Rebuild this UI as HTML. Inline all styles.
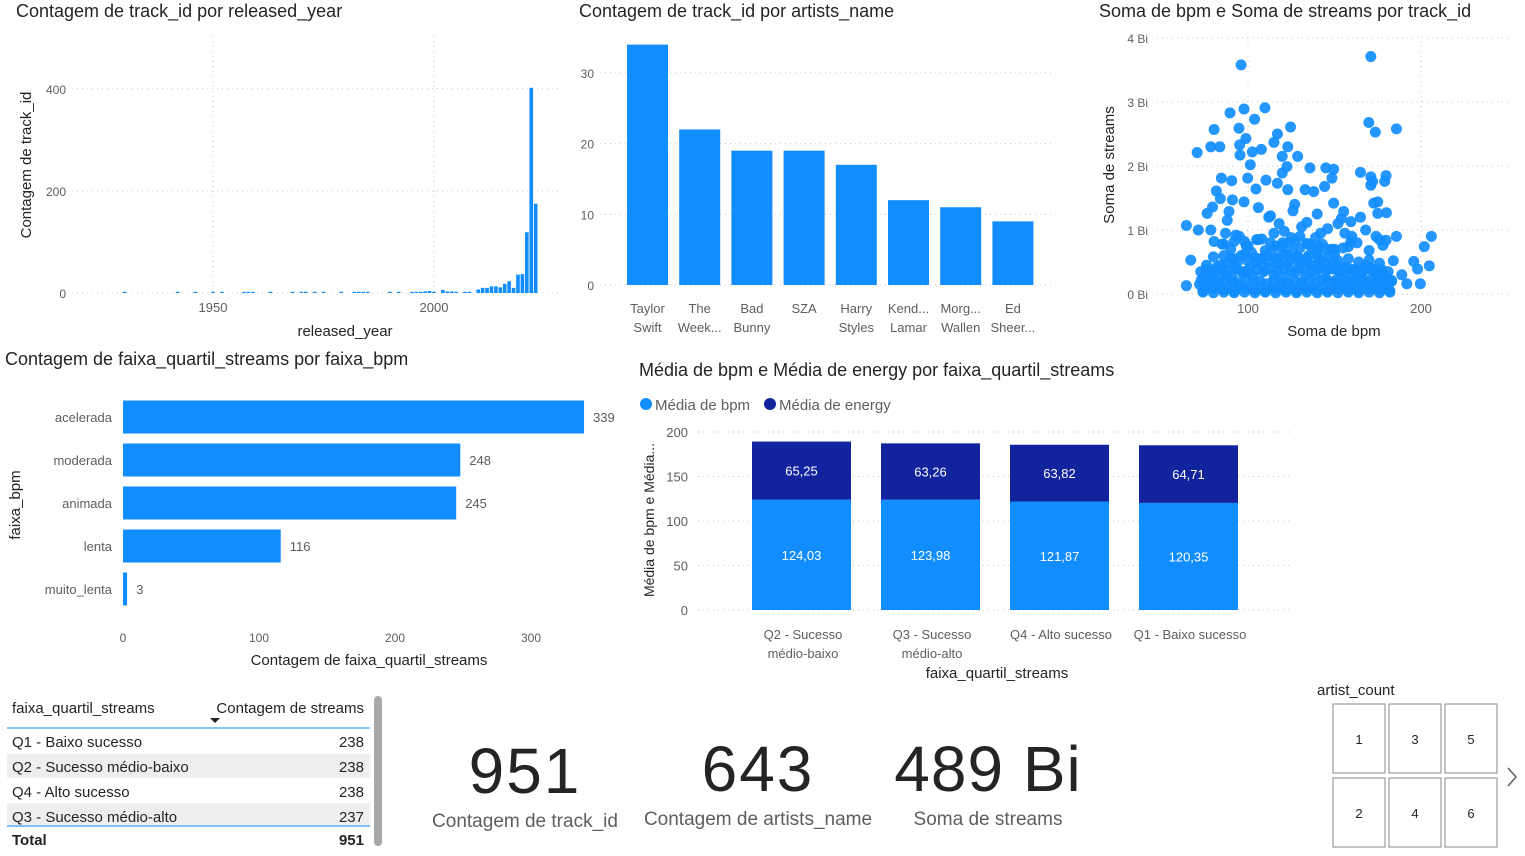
<!DOCTYPE html>
<html><head><meta charset="utf-8"><style>
body{margin:0;background:#fff;font-family:"Liberation Sans",sans-serif;}
svg{display:block}
text{font-family:"Liberation Sans",sans-serif}
</style></head><body>
<svg id="s" width="1525" height="856" viewBox="0 0 1525 856">
<g id="static">
<text x="16" y="17" font-size="18" fill="#252423">Contagem de track_id por released_year</text>
<text x="579" y="17" font-size="18" fill="#252423">Contagem de track_id por artists_name</text>
<text x="1099" y="17" font-size="18" fill="#252423">Soma de bpm e Soma de streams por track_id</text>
<text x="5" y="365" font-size="18" fill="#252423">Contagem de faixa_quartil_streams por faixa_bpm</text>
<text x="639" y="376" font-size="18" fill="#252423">Média de bpm e Média de energy por faixa_quartil_streams</text>
<text x="345" y="336" font-size="15" fill="#252423" text-anchor="middle">released_year</text>
<text transform="translate(31,165) rotate(-90)" font-size="15" fill="#252423" text-anchor="middle">Contagem de track_id</text>
<text x="1334" y="336" font-size="15" fill="#252423" text-anchor="middle">Soma de bpm</text>
<text transform="translate(1114,165) rotate(-90)" font-size="15" fill="#252423" text-anchor="middle">Soma de streams</text>
<text x="369" y="665" font-size="15" fill="#252423" text-anchor="middle">Contagem de faixa_quartil_streams</text>
<text transform="translate(20,505) rotate(-90)" font-size="15" fill="#252423" text-anchor="middle">faixa_bpm</text>
<text x="997" y="678" font-size="15" fill="#252423" text-anchor="middle">faixa_quartil_streams</text>
<text transform="translate(654,520) rotate(-90)" font-size="14" fill="#252423" text-anchor="middle">Média de bpm e Média...</text>
<g>
<circle cx="646" cy="404" r="6" fill="#118DFF"/>
<text x="655" y="410" font-size="15" fill="#605E5C">Média de bpm</text>
<circle cx="770" cy="404" r="6" fill="#12239E"/>
<text x="779" y="410" font-size="15" fill="#605E5C">Média de energy</text>
</g>
<g>
<text x="12" y="713" font-size="15" fill="#252423">faixa_quartil_streams</text>
<text x="364" y="713" font-size="15" fill="#252423" text-anchor="end">Contagem de streams</text>
<path d="M210,718 l10,0 l-5,5z" fill="#252423"/>
<line x1="7" x2="370" y1="728" y2="728" stroke="#118DFF"/>
<rect x="7" y="754" width="363" height="24" fill="#EEEEEE"/>
<rect x="7" y="803" width="363" height="24" fill="#EEEEEE"/>
<text x="12" y="747" font-size="15" fill="#252423">Q1 - Baixo sucesso</text><text x="364" y="747" font-size="15" fill="#252423" text-anchor="end">238</text>
<text x="12" y="772" font-size="15" fill="#252423">Q2 - Sucesso médio-baixo</text><text x="364" y="772" font-size="15" fill="#252423" text-anchor="end">238</text>
<text x="12" y="797" font-size="15" fill="#252423">Q4 - Alto sucesso</text><text x="364" y="797" font-size="15" fill="#252423" text-anchor="end">238</text>
<text x="12" y="822" font-size="15" fill="#252423">Q3 - Sucesso médio-alto</text><text x="364" y="822" font-size="15" fill="#252423" text-anchor="end">237</text>
<line x1="7" x2="370" y1="826" y2="826" stroke="#118DFF"/>
<text x="12" y="845" font-size="15" font-weight="bold" fill="#252423">Total</text>
<text x="364" y="845" font-size="15" font-weight="bold" fill="#252423" text-anchor="end">951</text>
<rect x="374" y="696" width="8" height="150" rx="4" fill="#A8A8A8"/>
</g>
<text x="525" y="793" font-size="64" fill="#252423" text-anchor="middle" letter-spacing="2">951</text>
<text x="525" y="827" font-size="19" fill="#605E5C" text-anchor="middle">Contagem de track_id</text>
<text x="758" y="791" font-size="64" fill="#252423" text-anchor="middle" letter-spacing="2">643</text>
<text x="758" y="825" font-size="19" fill="#605E5C" text-anchor="middle">Contagem de artists_name</text>
<text x="988" y="791" font-size="64" fill="#252423" text-anchor="middle" letter-spacing="1">489 Bi</text>
<text x="988" y="825" font-size="19" fill="#605E5C" text-anchor="middle">Soma de streams</text>
<text x="1317" y="695" font-size="15" fill="#252423">artist_count</text>
<g font-size="13" fill="#252423" text-anchor="middle">
<rect x="1333" y="704" width="52" height="69" fill="#fff" stroke="#888"/><text x="1359" y="744">1</text>
<rect x="1389" y="704" width="52" height="69" fill="#fff" stroke="#888"/><text x="1415" y="744">3</text>
<rect x="1445" y="704" width="52" height="69" fill="#fff" stroke="#888"/><text x="1471" y="744">5</text>
<rect x="1333" y="778" width="52" height="69" fill="#fff" stroke="#888"/><text x="1359" y="818">2</text>
<rect x="1389" y="778" width="52" height="69" fill="#fff" stroke="#888"/><text x="1415" y="818">4</text>
<rect x="1445" y="778" width="52" height="69" fill="#fff" stroke="#888"/><text x="1471" y="818">6</text>
</g>
<path d="M1508,768 l8,9 l-8,9" fill="none" stroke="#605E5C" stroke-width="1.5"/>
</g>
<g id="year"></g><g id="artist"></g><g id="scatter"></g><g id="hbar"></g><g id="stack"></g>
</svg>
<script>
const years=[1930,1942,1946,1950,1952,1957,1958,1959,1963,1968,1970,1971,1973,1975,1979,1982,1983,1984,1985,1990,1992,1995,1996,1997,1998,1999,2000,2002,2003,2004,2005,2007,2008,2010,2011,2012,2013,2014,2015,2016,2017,2018,2019,2020,2021,2022,2023];
const yearCounts=[1,1,1,1,1,1,2,2,1,1,1,1,1,1,1,1,2,2,2,1,1,2,2,2,3,4,2,6,3,3,2,2,2,7,10,10,13,13,11,18,23,10,36,37,119,402,175];
const yearTicksX=[1950,2000];
const yearTicksY=[0,200,400];
const artists=[["Taylor","Swift"],["The","Week..."],["Bad","Bunny"],["SZA"],["Harry","Styles"],["Kend...","Lamar"],["Morg...","Wallen"],["Ed","Sheer..."]];
const artistCounts=[34,22,19,19,17,12,11,9];
const artistTicks=[0,10,20,30];
const scBpm=[96,171,70.6,80.4,78.5,83.7,89.6,94.8,97.7,103.8,109.8,124.6,117,115,123,128.7,119.8,107.7,102.5,98.8,95.2,95.4,101.3,135.8,145,149.5,165,169.8,173.6,185.8,171,179.8,179,172,171,84.6,90.6,81.7,84,79.5,76.4,64.4,71.3,66.9,64.4,80.4,188.9,191.8,199.6,195.8,198,201.9,206,204.8,185.8,179.8,184,180,175,175,172.7,159.5,155.3,154,165,159.5,148.5,144.3,138,133,149.5,123,119.8,122.5,117,110.4,104.6,99.8,97.7,91,89,87,78.5,75.6,72.7,
112,118,126,131,140,142,152,160,168,176,88,93,106,113,121,127,134,139,146,156,163,174,86,98,108,116,124,130,137,143,150,158,170,178,
72,75,78,81,84,87,90,93,96,99,102,105,108,111,114,117,120,123,126,129,132,135,138,141,144,147,150,153,156,159,162,165,168,171,174,177,180,183,
74,77,80,83,86,89,92,95,98,101,104,107,110,113,116,119,122,125,128,131,134,137,140,143,146,149,152,155,158,161,164,167,170,173,176,179,182,
73,79,85,91,97,103,109,115,121,127,133,139,145,151,157,163,169,175,181,
76,82,88,94,100,106,112,118,124,130,136,142,148,154,160,166,172,178,
90,100,110,120,130,140,150,95,105,115,125,135,145,
75,79,83,87,91,95,99,103,107,111,115,119,123,127,131,135,139,143,147,151,155,159,163,167,171,175,179,183,
77,81,85,89,93,97,101,105,109,113,117,121,125,129,133,137,141,145,149,153,157,161,165,169,173,177,181,
80,86,92,98,104,110,116,122,128,134,140,146,152,158,164,170,176,
85,92,99,106,113,120,127,134,141,148,155,
74,80,86,92,98,104,110,116,122,128,134,140,146,152,158,164,170,176,182];
const scStreams=[3.58,3.71,2.21,2.57,2.30,2.30,2.83,2.59,2.89,2.73,2.91,2.61,2.5,2.37,2.3,2.15,2.15,2.26,2.22,2.43,2.33,2.17,2.02,1.97,1.97,1.95,1.9,2.68,2.53,2.58,1.83,1.85,1.76,1.76,1.7,1.81,1.77,1.61,1.49,1.36,1.26,1.07,1.0,0.53,0.13,0.82,0.30,0.16,0.16,0.51,0.39,0.74,0.90,0.44,0.9,0.84,0.52,1.27,1.26,1.44,1.42,1.13,1.29,1.18,1.2,0.82,1.81,1.68,1.6,1.63,1.42,1.63,1.89,1.99,1.73,1.78,1.64,1.81,1.44,1.47,1.29,0.95,1.0,0.38,0.35,
1.2,1.1,1.3,1.05,1.25,0.95,1.1,0.9,1.0,0.85,1.15,0.92,1.35,1.22,0.98,1.4,1.12,0.88,1.02,0.95,0.8,0.9,0.78,0.82,0.86,0.75,0.8,0.9,0.72,0.78,0.7,0.74,0.68,0.76,
0.15,0.25,0.35,0.2,0.45,0.3,0.55,0.4,0.6,0.35,0.65,0.5,0.45,0.6,0.7,0.55,0.62,0.48,0.66,0.58,0.5,0.6,0.45,0.55,0.5,0.4,0.48,0.35,0.42,0.3,0.38,0.28,0.45,0.4,0.3,0.35,0.25,0.2,
0.05,0.1,0.08,0.12,0.06,0.1,0.05,0.12,0.08,0.1,0.06,0.12,0.05,0.1,0.08,0.12,0.06,0.1,0.05,0.12,0.08,0.1,0.06,0.12,0.05,0.1,0.08,0.12,0.06,0.1,0.05,0.12,0.08,0.1,0.06,0.12,0.05,
0.22,0.28,0.3,0.25,0.32,0.28,0.35,0.3,0.26,0.33,0.28,0.3,0.25,0.22,0.2,0.24,0.18,0.22,0.15,
0.45,0.42,0.48,0.5,0.52,0.55,0.5,0.47,0.52,0.48,0.45,0.42,0.4,0.35,0.38,0.32,0.36,0.3,
0.7,0.75,0.68,0.8,0.72,0.65,0.62,0.9,0.85,0.95,0.88,0.78,0.7,
0.18,0.2,0.16,0.22,0.19,0.17,0.21,0.18,0.2,0.16,0.22,0.19,0.17,0.21,0.18,0.2,0.16,0.22,0.19,0.17,0.21,0.18,0.2,0.16,0.22,0.19,0.17,0.21,
0.38,0.36,0.4,0.37,0.39,0.35,0.41,0.38,0.36,0.4,0.37,0.39,0.35,0.41,0.38,0.36,0.4,0.37,0.39,0.35,0.41,0.38,0.36,0.4,0.37,0.39,0.35,
0.58,0.6,0.55,0.62,0.57,0.6,0.56,0.63,0.58,0.55,0.6,0.57,0.52,0.55,0.5,0.53,0.48,
0.78,0.82,0.75,0.85,0.8,0.76,0.83,0.79,0.74,0.7,0.72,
0.03,0.02,0.03,0.02,0.03,0.02,0.03,0.02,0.03,0.02,0.03,0.02,0.03,0.02,0.03,0.02,0.03,0.02,0.03];
const scTicksX=[100,200];
const scTicksY=[0,1,2,3,4];
const bands=["acelerada","moderada","animada","lenta","muito_lenta"];
const bandCounts=[339,248,245,116,3];
const hTicks=[0,100,200,300];
const quartiles=[["Q2 - Sucesso","médio-baixo"],["Q3 - Sucesso","médio-alto"],["Q4 - Alto sucesso"],["Q1 - Baixo sucesso"]];
const bpmAvg=[124.03,123.98,121.87,120.35];
const energyAvg=[65.25,63.26,63.82,64.71];
const stackTicks=[0,50,100,150,200];

const NS="http://www.w3.org/2000/svg";
function mk(p,tag,a,txt){const e=document.createElementNS(NS,tag);for(const k in a)e.setAttribute(k,a[k]);if(txt!==undefined)e.textContent=txt;p.appendChild(e);return e;}
const fmt=v=>v.toFixed(2).replace('.',',');

{const g=document.getElementById('year');
const x=y=>213+(y-1950)*4.42, yy=v=>293-v*0.5105;
yearTicksY.forEach(t=>{const l=mk(g,'line',{x1:72,x2:560,y1:yy(t),y2:yy(t),stroke:'#C8C8C8','stroke-dasharray':'1 4'});


const tx=mk(g,'text',{x:66,y:yy(t)+5,'font-size':12,fill:'#605E5C','text-anchor':'end'},t);

});
yearTicksX.forEach(t=>{const l=mk(g,'line',{x1:x(t),x2:x(t),y1:36,y2:293,stroke:'#C8C8C8','stroke-dasharray':'1 4'});


const tx=mk(g,'text',{x:x(t),y:312,'font-size':13,fill:'#605E5C','text-anchor':'middle'},t);

});
years.forEach((y,i)=>{const h=Math.max(yearCounts[i]*0.5105,1.2);const r=mk(g,'rect',{x:x(y)-1.8,y:293-h,width:3.6,height:h,fill:'#118DFF'});

});}

{const g=document.getElementById('artist');
const yy=v=>285-v*7.07;
artistTicks.forEach(t=>{const l=mk(g,'line',{x1:600,x2:1055,y1:yy(t),y2:yy(t),stroke:'#C8C8C8','stroke-dasharray':'1 4'});


const tx=mk(g,'text',{x:594,y:yy(t)+5,'font-size':12,fill:'#605E5C','text-anchor':'end'},t);

});
artists.forEach((a,i)=>{const x0=627+i*52.2;const r=mk(g,'rect',{x:x0,y:yy(artistCounts[i]),width:41,height:artistCounts[i]*7.07,fill:'#118DFF'});


a.forEach((s,j)=>{const tx=mk(g,'text',{x:x0+20.5,y:313+j*19,'font-size':13,fill:'#605E5C','text-anchor':'middle'},s);

});});}

{const g=document.getElementById('scatter');
const x=v=>1248+(v-100)*1.73, yy=v=>294-v*64;
scTicksY.forEach(t=>{const l=mk(g,'line',{x1:1157,x2:1508,y1:yy(t),y2:yy(t),stroke:'#C8C8C8','stroke-dasharray':'1 4'});


const tx=mk(g,'text',{x:1148,y:yy(t)+5,'font-size':12,fill:'#605E5C','text-anchor':'end'},t+' Bi');

});
scTicksX.forEach(t=>{const l=mk(g,'line',{x1:x(t),x2:x(t),y1:36,y2:294,stroke:'#C8C8C8','stroke-dasharray':'1 4'});


const tx=mk(g,'text',{x:x(t),y:313,'font-size':13,fill:'#605E5C','text-anchor':'middle'},t);

});
scBpm.forEach((b,i)=>{const c=mk(g,'circle',{cx:x(b),cy:yy(scStreams[i]),r:5.5,fill:'#118DFF','fill-opacity':0.92});

});}

{const g=document.getElementById('hbar');
const x=v=>123+v*1.36;
hTicks.forEach(t=>{const tx=mk(g,'text',{x:x(t),y:642,'font-size':12,fill:'#605E5C','text-anchor':'middle'},t);

});
bands.forEach((b,i)=>{const cy=417+i*43;const r=mk(g,'rect',{x:123,y:cy-16.5,width:bandCounts[i]*1.36,height:33,fill:'#118DFF'});


const l=mk(g,'text',{x:112,y:cy+5,'font-size':13,fill:'#605E5C','text-anchor':'end'},b);


const v=mk(g,'text',{x:x(bandCounts[i])+9,y:cy+5,'font-size':13,fill:'#605E5C'},bandCounts[i]);

});}

{const g=document.getElementById('stack');
const yy=v=>610-v*0.89;
stackTicks.forEach(t=>{const l=mk(g,'line',{x1:698,x2:1292,y1:yy(t),y2:yy(t),stroke:'#C8C8C8','stroke-dasharray':'1 4'});


const tx=mk(g,'text',{x:688,y:yy(t)+5,'font-size':13,fill:'#605E5C','text-anchor':'end'},t);

});
quartiles.forEach((q,i)=>{const x0=752+i*129;const b=bpmAvg[i],e=energyAvg[i];
const r1=mk(g,'rect',{x:x0,y:yy(b),width:99,height:b*0.89,fill:'#118DFF'});


const r2=mk(g,'rect',{x:x0,y:yy(b+e),width:99,height:e*0.89,fill:'#12239E'});


const t1=mk(g,'text',{x:x0+49.5,y:yy(b/2)+5,'font-size':13,fill:'#fff','text-anchor':'middle'},fmt(b));


const t2=mk(g,'text',{x:x0+49.5,y:yy(b+e/2)+5,'font-size':13,fill:'#fff','text-anchor':'middle'},fmt(e));


q.forEach((s,j)=>{const tx=mk(g,'text',{x:x0+51,y:639+j*19,'font-size':13,fill:'#605E5C','text-anchor':'middle'},s);

});});}
</script>
</body></html>
